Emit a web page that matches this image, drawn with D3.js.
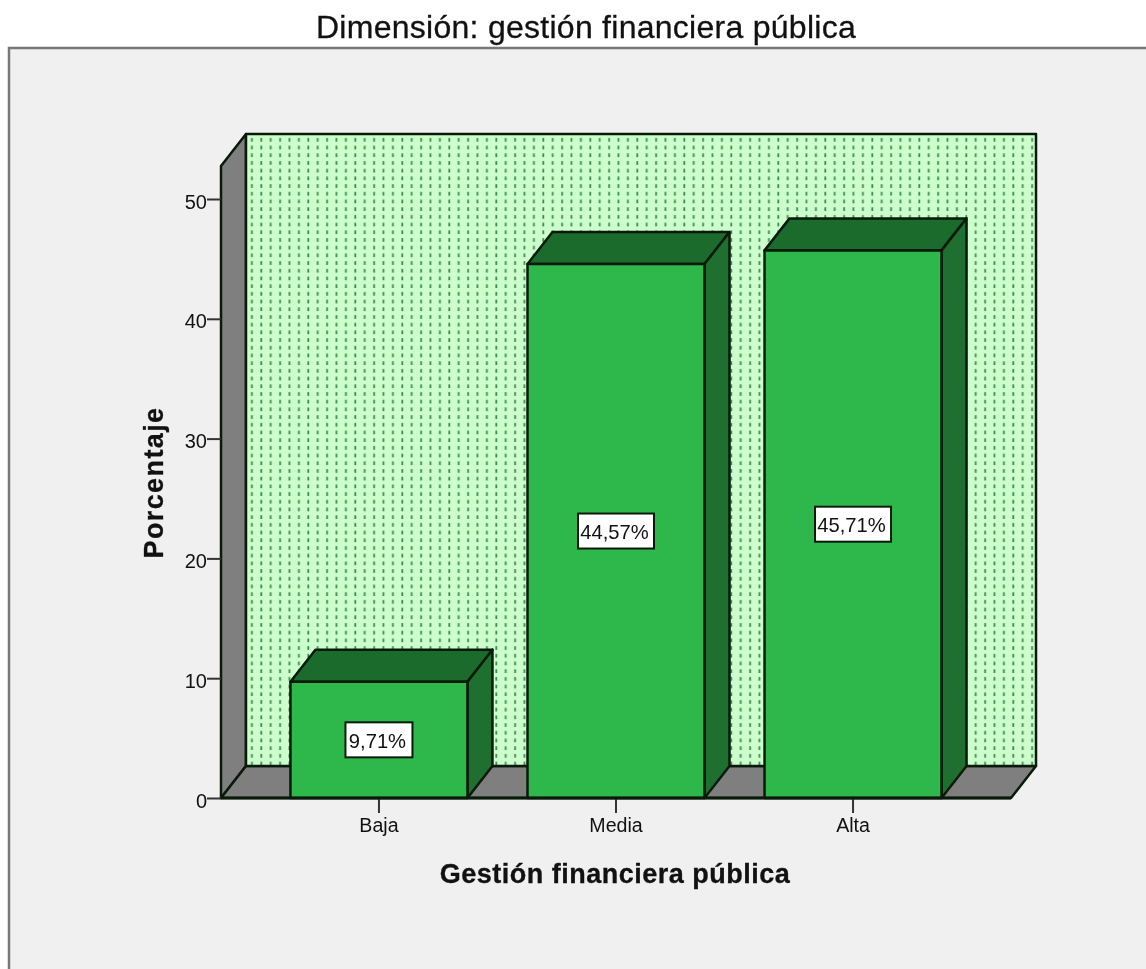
<!DOCTYPE html>
<html><head><meta charset="utf-8">
<style>html,body{margin:0;padding:0;background:#fff}svg{display:block;filter:blur(0.45px)}text{font-family:"Liberation Sans",Arial,sans-serif;fill:#111}</style>
<script src="https://cdn.jsdelivr.net/npm/d3@7/dist/d3.min.js"></script>
</head><body><script>
const categories = ["Baja","Media","Alta"];
const values = [9.71,44.57,45.71];
const valueLabels = ["9,71%","44,57%","45,71%"];
const yTicks = [0,10,20,30,40,50];
const titleText = "Dimensión: gestión financiera pública";
const xTitle = "Gestión financiera pública";
const yTitle = "Porcentaje";

const W=1146,H=969;
const svg=d3.select("body").append("svg").attr("width",W).attr("height",H);
const defs=svg.append("defs");
const pat=defs.append("pattern").attr("id","dots").attr("patternUnits","userSpaceOnUse")
  .attr("width",9.4).attr("height",7.7).attr("x",246).attr("y",134);
pat.append("rect").attr("width",9.4).attr("height",7.7).attr("fill","#ccffcc");
pat.append("rect").attr("x",5).attr("y",4).attr("width",1.8).attr("height",3.7).attr("fill","#3f8a55");

svg.append("rect").attr("x",9).attr("y",48).attr("width",W+20).attr("height",H+20)
  .attr("fill","#f0f0f0").attr("stroke","#777").attr("stroke-width",2.5);
svg.append("text").attr("x",586).attr("y",38).attr("text-anchor","middle").attr("font-size",32).attr("letter-spacing",0.27)
  .attr("stroke","#111").attr("stroke-width",0.3).text(titleText);

const y=d3.scaleLinear().domain([0,50]).range([798,199]);
const x=d3.scaleBand().domain(categories).range([221,1011]).paddingInner(0.2532).paddingOuter(0.293);
const dx=25,dy=-32;
const line=d3.line();
const k="#0a1a0a";
const poly=(pts,fill,sw=2.5)=>svg.append("path").attr("d",line(pts)+"Z").attr("fill",fill).attr("stroke",k).attr("stroke-width",sw).attr("stroke-linejoin","round");

const x0=x.range()[0],x1=x.range()[1],y0=y(0),yTop=134-dy;
poly([[x0,y0],[x0,yTop],[x0+dx,yTop+dy],[x0+dx,y0+dy]],"#7f7f7f");
poly([[x0,y0],[x1,y0],[x1+dx,y0+dy],[x0+dx,y0+dy]],"#7f7f7f");
poly([[x0+dx,y0+dy],[x0+dx,yTop+dy],[x1+dx,yTop+dy],[x1+dx,y0+dy]],"url(#dots)");

categories.forEach((c,i)=>{
  const l=x(c),r=l+x.bandwidth(),t=y(values[i]);
  poly([[l,t],[l+dx,t+dy],[r+dx,t+dy],[r,t]],"#1b6b2d");
  poly([[r,t],[r+dx,t+dy],[r+dx,y0+dy],[r,y0]],"#1f7030");
  poly([[l,t],[r,t],[r,y0],[l,y0]],"#2eb84c");
});

categories.forEach((c,i)=>{
  const cx=x(c)+x.bandwidth()/2,cy=(y(values[i])+y0)/2;
  const w=i===0?67:76,h=35;
  svg.append("rect").attr("x",cx-w/2).attr("y",cy-h/2).attr("width",w).attr("height",h)
    .attr("fill","#fff").attr("stroke",k).attr("stroke-width",2);
  svg.append("text").attr("x",cx-1.5).attr("y",cy+8).attr("text-anchor","middle").attr("font-size",20.2).text(valueLabels[i]);
});

const ya=svg.append("g").attr("transform",`translate(${x0},0)`).call(d3.axisLeft(y).tickValues(yTicks).tickSize(14).tickSizeOuter(0).tickPadding(0));
const xa=svg.append("g").attr("transform",`translate(0,${y0})`).call(d3.axisBottom(x).tickSize(15).tickSizeOuter(0).tickPadding(5));
[ya,xa].forEach(a=>{
  a.select(".domain").remove();
  a.selectAll("line").attr("stroke","#333").attr("stroke-width",2);
  a.selectAll("text").attr("font-family",'"Liberation Sans",Arial,sans-serif').attr("fill","#222");
});
ya.selectAll("text").attr("font-size",20).attr("dy","0.45em");
xa.selectAll("text").attr("font-size",19.6);
svg.append("line").attr("x1",x0).attr("x2",x1).attr("y1",y0).attr("y2",y0).attr("stroke",k).attr("stroke-width",3);

svg.append("text").attr("x",615).attr("y",883).attr("text-anchor","middle").attr("font-size",27).attr("font-weight","bold").attr("letter-spacing",0.5).attr("stroke","#111").attr("stroke-width",0.3).text(xTitle);
svg.append("text").attr("transform","translate(163,482.5) rotate(-90)").attr("text-anchor","middle").attr("font-size",27).attr("font-weight","bold").attr("letter-spacing",1.4).attr("stroke","#111").attr("stroke-width",0.3).text(yTitle);
</script></body></html>
